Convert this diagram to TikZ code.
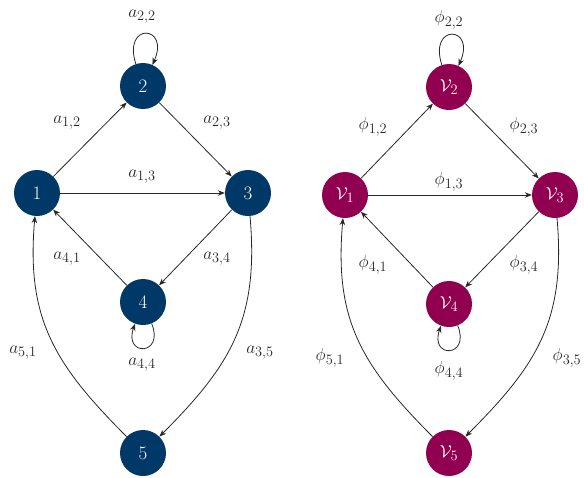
\documentclass[tikz,border=0pt]{standalone}
\usetikzlibrary{arrows.meta}
\definecolor{navy}{RGB}{0,56,104}
\definecolor{wine}{RGB}{145,0,80}
\definecolor{edgegray}{RGB}{40,40,40}
\tikzset{
  vtx/.style={circle,minimum size=46pt,inner sep=0pt,text=white,font=\fontsize{19}{23}\selectfont},
  lvtx/.style={vtx,fill=navy},
  rvtx/.style={vtx,fill=wine},
  edge/.style={draw=edgegray,line width=0.8pt,-{Stealth[length=7pt,width=5.5pt]}},
  lbl/.style={inner sep=0pt,text=black!85,font=\fontsize{19}{23}\selectfont},
  looptop/.style={out=108,in=66,distance=44pt},
  loopbot/.style={out=-68,in=-110,distance=35pt},
}
\begin{document}
\begin{tikzpicture}[x=1pt,y=-1pt]
\useasboundingbox (0,0) rectangle (584,477);
% left graph
\node[lvtx] (n1) at (37,193) {1};
\node[lvtx] (n2) at (143,86) {2};
\node[lvtx] (n3) at (248,193) {3};
\node[lvtx] (n4) at (143,302) {4};
\node[lvtx] (n5) at (143,453) {5};
\draw[edge] (n1) -- (n2);
\draw[edge] (n2) -- (n3);
\draw[edge] (n1) -- (n3);
\draw[edge] (n3) -- (n4);
\draw[edge] (n4) -- (n1);
\draw[edge] (n2.108) to[looptop] (n2.66);
\draw[edge] (n4.-68) to[loopbot] (n4.-110);
\draw[edge] (n3.-85) to[out=-85,in=45,looseness=1.1] (n5.45);
\draw[edge] (n5.135) to[out=135,in=-95,looseness=1.1] (n1.-95);
\node[lbl] (l22) at (142,17) {$a_{2,2}$};
\node[lbl] (l12) at (67,123) {$a_{1,2}$};
\node[lbl] (l23) at (217,123) {$a_{2,3}$};
\node[lbl] (l13) at (142,177) {$a_{1,3}$};
\node[lbl] (l41) at (67,259) {$a_{4,1}$};
\node[lbl] (l34) at (217,259) {$a_{3,4}$};
\node[lbl] (l44) at (142,365) {$a_{4,4}$};
\node[lbl] (l51) at (23,353) {$a_{5,1}$};
\node[lbl] (l35) at (260,353) {$a_{3,5}$};
% right graph
\node[rvtx] (m1) at (345,195) {$\mathcal{V}_1$};
\node[rvtx] (m2) at (449,87) {$\mathcal{V}_2$};
\node[rvtx] (m3) at (555,195) {$\mathcal{V}_3$};
\node[rvtx] (m4) at (449,304) {$\mathcal{V}_4$};
\node[rvtx] (m5) at (449,453) {$\mathcal{V}_5$};
\draw[edge] (m1) -- (m2);
\draw[edge] (m2) -- (m3);
\draw[edge] (m1) -- (m3);
\draw[edge] (m3) -- (m4);
\draw[edge] (m4) -- (m1);
\draw[edge] (m2.108) to[looptop] (m2.66);
\draw[edge] (m4.-68) to[loopbot] (m4.-110);
\draw[edge] (m3.-85) to[out=-85,in=45,looseness=1.1] (m5.45);
\draw[edge] (m5.135) to[out=135,in=-95,looseness=1.1] (m1.-95);
\node[lbl] (k22) at (449,20) {$\phi_{2,2}$};
\node[lbl] (k12) at (373,127) {$\phi_{1,2}$};
\node[lbl] (k23) at (524,127) {$\phi_{2,3}$};
\node[lbl] (k13) at (449,182) {$\phi_{1,3}$};
\node[lbl] (k41) at (373,265) {$\phi_{4,1}$};
\node[lbl] (k34) at (524,265) {$\phi_{3,4}$};
\node[lbl] (k44) at (449,371) {$\phi_{4,4}$};
\node[lbl] (k51) at (330,358) {$\phi_{5,1}$};
\node[lbl] (k35) at (567,358) {$\phi_{3,5}$};
\end{tikzpicture}
\end{document}
